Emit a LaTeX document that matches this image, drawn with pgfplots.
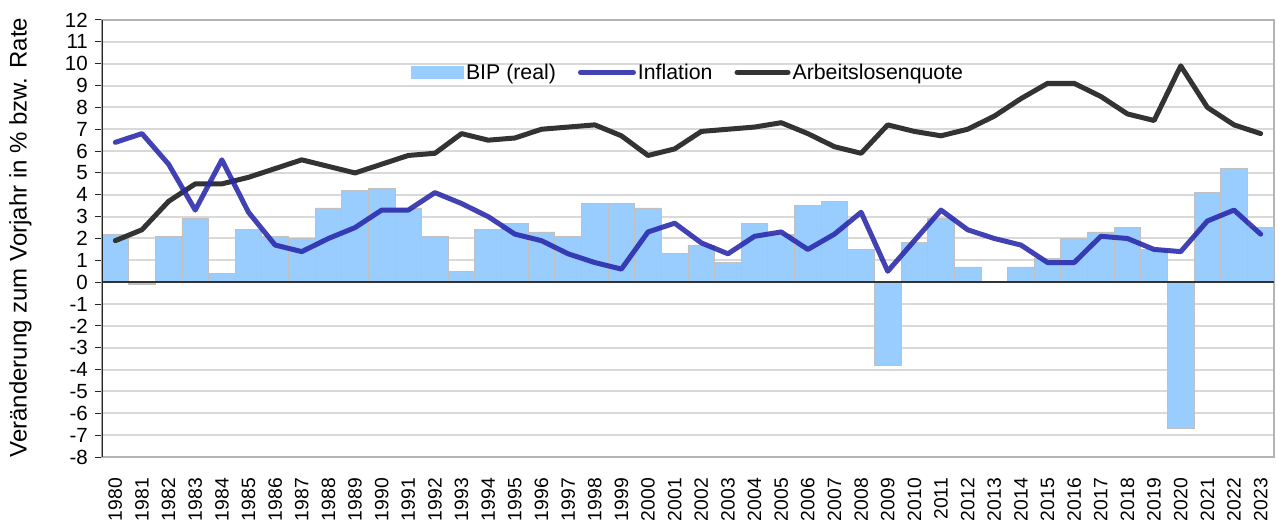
\documentclass[border=0pt]{standalone}
\usepackage{pgfplots}
\pgfplotsset{compat=1.18}
\usepackage{pgfplotstable}
\usepackage{fontspec}
\setmainfont{Liberation Sans}
\definecolor{bipblue}{RGB}{153,204,255}
\definecolor{bipedge}{RGB}{192,192,192}
\definecolor{infl}{RGB}{40,40,170}
\definecolor{alq}{RGB}{51,51,51}
\definecolor{gridc}{RGB}{217,217,217}
\definecolor{framec}{RGB}{180,180,180}

\pgfplotsset{
  barleg/.style={legend image code/.code={\fill[bipblue] (0bp,-6bp) rectangle (52bp,6bp);}},
  inflleg/.style={legend image code/.code={\draw[infl, opacity=0.88, line width=5bp, line cap=round] (2bp,0bp) -- (55bp,0bp);}},
  alqleg/.style={legend image code/.code={\draw[alq, line width=5bp, line cap=round] (2bp,0bp) -- (53bp,0bp);}},
}

\pgfplotstableread{
idx bip infl alq
0 2.2 6.4 1.9
1 -0.1 6.8 2.4
2 2.1 5.4 3.7
3 2.9 3.3 4.5
4 0.4 5.6 4.5
5 2.4 3.2 4.8
6 2.1 1.7 5.2
7 2.0 1.4 5.6
8 3.4 2.0 5.3
9 4.2 2.5 5.0
10 4.3 3.3 5.4
11 3.4 3.3 5.8
12 2.1 4.1 5.9
13 0.5 3.6 6.8
14 2.4 3.0 6.5
15 2.7 2.2 6.6
16 2.3 1.9 7.0
17 2.1 1.3 7.1
18 3.6 0.9 7.2
19 3.6 0.6 6.7
20 3.4 2.3 5.8
21 1.3 2.7 6.1
22 1.7 1.8 6.9
23 0.9 1.3 7.0
24 2.7 2.1 7.1
25 2.2 2.3 7.3
26 3.5 1.5 6.8
27 3.7 2.2 6.2
28 1.5 3.2 5.9
29 -3.8 0.5 7.2
30 1.8 1.9 6.9
31 2.9 3.3 6.7
32 0.7 2.4 7.0
33 0.0 2.0 7.6
34 0.7 1.7 8.4
35 1.1 0.9 9.1
36 2.0 0.9 9.1
37 2.3 2.1 8.5
38 2.5 2.0 7.7
39 1.5 1.5 7.4
40 -6.7 1.4 9.9
41 4.1 2.8 8.0
42 5.2 3.3 7.2
43 2.5 2.2 6.8
}\data

\begin{document}
\begin{tikzpicture}
\begin{axis}[
  at={(0,0)}, anchor=south west,
  scale only axis, width=1172bp, height=437bp,
  xmin=-0.5, xmax=43.5, ymin=-8, ymax=12,
  ytick={-8,-7,...,12},
  xtick={0,1,...,43},
  xticklabel={\pgfmathtruncatemacro{\yr}{1980+\tick}\yr},
  xtick style={draw=none},
  ytick pos=left,
  ytick align=outside,
  major tick length=7bp,
  y tick style={black!85, line width=1bp},
  /pgf/number format/assume math mode=true,
  yticklabel style={inner sep=0pt, xshift=-7bp, font=\fontsize{20.5bp}{24bp}\selectfont},
  xticklabel style={rotate=90, anchor=east, inner sep=0pt, font=\fontsize{19.3bp}{23bp}\selectfont},
  xticklabel shift=21bp,
  ymajorgrids,
  grid style={gridc, line width=2bp},
  axis line style={framec, line width=1.5bp},
  ylabel={Veränderung zum Vorjahr in \% bzw. Rate},
  every axis y label/.style={at={(axis description cs:-0.0697,0.502)}, rotate=90, anchor=center, font=\fontsize{24bp}{28bp}\selectfont},
  legend style={at={(0.2637,0.88)}, anchor=west, draw=none, fill=none,
    legend columns=3, font=\fontsize{21.3bp}{25bp}\selectfont,
    /tikz/every even column/.append style={column sep=20bp},
    inner sep=0pt, cells={anchor=west}},
]
\addplot[ybar, bar width=1, fill=bipblue, draw=bipedge, line width=0.8bp, barleg]
  table[x=idx,y=bip]{\data};
\addlegendentry{BIP (real)}
\draw[black!80, line width=1.5bp] (axis cs:-0.5,0) -- (axis cs:43.5,0);
\addplot[alq, line width=5bp, line join=round, line cap=round, mark=none, forget plot]
  table[x=idx,y=alq]{\data};
\addplot[infl, opacity=0.88, line width=5bp, line join=round, line cap=round, mark=none, inflleg]
  table[x=idx,y=infl]{\data};
\addlegendentry{Inflation}
\addlegendimage{alqleg}
\addlegendentry{Arbeitslosenquote}
\draw[black!85, line width=1.2bp] (axis cs:-0.5,-8) -- (axis cs:-0.5,12);
\end{axis}
\pgfresetboundingbox
\useasboundingbox (-102bp,-66bp) rectangle (1176bp,457bp);
\end{tikzpicture}
\end{document}
